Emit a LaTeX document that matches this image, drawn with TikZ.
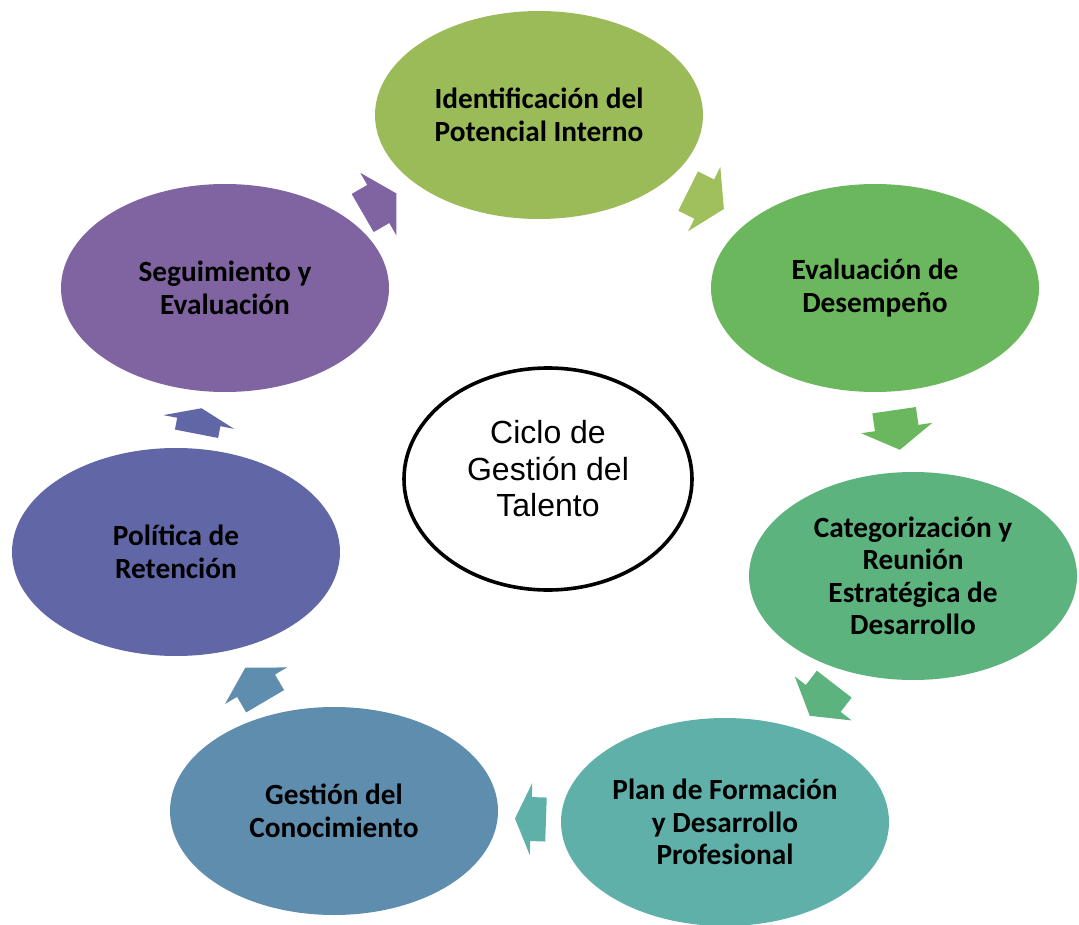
\documentclass[tikz,border=0pt]{standalone}
\usepackage{fontspec}
\usetikzlibrary{calc,shapes.geometric}
\newfontfamily\labelfont{Carlito}
\newfontfamily\hubfont{Liberation Sans}

\definecolor{stageA}{HTML}{9BBB59}
\definecolor{stageB}{HTML}{6BB75E}
\definecolor{stageC}{HTML}{5DB37E}
\definecolor{stageD}{HTML}{5FB0A8}
\definecolor{stageE}{HTML}{5F8DAE}
\definecolor{stageF}{HTML}{6167A6}
\definecolor{stageG}{HTML}{8064A2}
\definecolor{arrowA}{HTML}{A0BF5D}

% block arrow: #1 centre, #2 direction (degrees, y downwards), #3 colour,
% #4 tail offset, #5 shoulder offset, #6 tip offset
\newcommand\cyclearrow[6]{%
  \fill[#3] ($(#1)+(#2:#4)+(#2+90:22)$) -- ($(#1)+(#2:#5)+(#2+90:22)$)
    -- ($(#1)+(#2:#5)+(#2+90:36)$) -- ($(#1)+(#2:#6)$)
    -- ($(#1)+(#2:#5)+(#2-90:36)$) -- ($(#1)+(#2:#5)+(#2-90:22)$)
    -- ($(#1)+(#2:#4)+(#2-90:22)$) -- cycle;}

\tikzset{
  stage/.style={ellipse, draw=none, minimum width=328pt, minimum height=208pt,
    inner sep=0pt, align=center, text=black,
    font=\labelfont\bfseries\fontsize{29.3}{32.5}\selectfont},
  hub/.style={ellipse, draw=black, line width=3.6pt, fill=white,
    minimum width=288pt, minimum height=222pt, inner sep=0pt},
  hubtext/.style={align=center, inner sep=0pt,
    font=\hubfont\fontsize{32}{36.5}\selectfont}
}

\begin{document}
\begin{tikzpicture}[x=1pt,y=-1pt]
\useasboundingbox (0,0) rectangle (1079,925);

% stages of the cycle
\node[stage, fill=stageA] (ident) at (539,115) {Identificación del\\Potencial Interno};
\node[stage, fill=stageB] (eval) at (875,288) {Evaluación de\\Desempeño};
\node[stage, fill=stageC] (categ) at (913,576) {Categorización y\\Reunión\\Estratégica de\\Desarrollo};
\node[stage, fill=stageD] (plan) at (725,822) {Plan de Formación\\y Desarrollo\\Profesional};
\node[stage, fill=stageE] (conoc) at (334,811) {Gestión del\\Conocimiento};
\node[stage, fill=stageF] (reten) at (176,552) {Política de\\Retención};
\node[stage, fill=stageG] (segui) at (225,288) {Seguimiento y\\Evaluación};

% centre of the cycle
\node[hub] (hub) at (548,479) {};
\node[hubtext] (hublabel) at (548,469) {Ciclo de\\Gestión del\\Talento};

% block arrows between consecutive stages
\coordinate (arrAB) at (706,200);
\coordinate (arrBC) at (897,430);
\coordinate (arrCD) at (822,700);
\coordinate (arrDE) at (530,819);
\coordinate (arrEF) at (255,684);
\coordinate (arrFG) at (199,421);
\coordinate (arrGA) at (380,203);

\cyclearrow{arrAB}{26.6}{arrowA}{-20}{-2}{20}
\cyclearrow{arrBC}{81.7}{stageB}{-20}{-2}{20}
\cyclearrow{arrCD}{127.7}{stageC}{-20}{-2}{20}
\cyclearrow{arrDE}{182}{stageD}{-16}{-1}{15}
\cyclearrow{arrEF}{239.5}{stageE}{-20}{-2}{19}
\cyclearrow{arrFG}{281}{stageF}{-13}{-1}{13}
\cyclearrow{arrGA}{330}{stageG}{-20}{-2}{19}
\end{tikzpicture}
\end{document}
